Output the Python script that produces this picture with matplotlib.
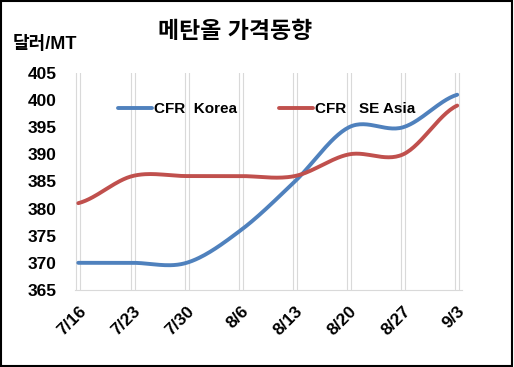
import numpy as np
import matplotlib
matplotlib.use("Agg")
import matplotlib.pyplot as plt
from matplotlib.patches import Rectangle

plt.rcParams['font.family'] = ['Liberation Sans', 'Noto Sans CJK KR', 'DejaVu Sans']

# 데이터
dates = ['7/16', '7/23', '7/30', '8/6', '8/13', '8/20', '8/27', '9/3']
korea = [370, 370, 370, 376, 385, 395, 395, 401]
se_asia = [381, 386, 386, 386, 386, 390, 390, 399]


# 엑셀 "부드러운 선" 흉내 (Catmull-Rom)
def smooth(y, n=30):
    y = np.asarray(y, dtype=float)
    x = np.arange(len(y), dtype=float)
    p = np.concatenate([[y[0]], y, [y[-1]]])
    xs, ys = [], []
    for i in range(len(y) - 1):
        p0, p1, p2, p3 = p[i], p[i + 1], p[i + 2], p[i + 3]
        t = np.linspace(0, 1, n, endpoint=False)
        yy = 0.5 * ((2 * p1) + (-p0 + p2) * t + (2 * p0 - 5 * p1 + 4 * p2 - p3) * t ** 2
                    + (-p0 + 3 * p1 - 3 * p2 + p3) * t ** 3)
        xs.append(x[i] + t)
        ys.append(yy)
    xs.append([x[-1]])
    ys.append([y[-1]])
    return np.concatenate(xs), np.concatenate(ys)


fig = plt.figure(figsize=(5.14, 3.67), dpi=100)
ax = fig.add_axes([0.146, 0.210, 0.753, 0.591])

x = np.arange(len(dates))
for i in x:
    ax.axvline(i - 0.035, color='#d9d9d9', lw=0.8, zorder=0)
    ax.axvline(i + 0.04, color='#d9d9d9', lw=0.8, zorder=0)

kx, ky = smooth(korea)
sx, sy = smooth(se_asia)
ax.plot(kx, ky, color='#4f81bd', lw=2.8, label='CFR  Korea', solid_capstyle='round')
ax.plot(sx, sy, color='#c0504d', lw=2.8, label='CFR   SE Asia', solid_capstyle='round')

ax.set_xlim(-0.06, 7.09)
ax.set_ylim(365, 405)
ax.set_yticks(range(365, 406, 5))
ax.set_xticks(x)
ax.set_xticklabels(dates, rotation=45, ha='right', rotation_mode='anchor')
ax.tick_params(length=0, labelsize=12.5)
ax.tick_params(axis='y', pad=13)
ax.tick_params(axis='x', pad=10)
for lab in ax.get_xticklabels() + ax.get_yticklabels():
    lab.set_fontweight('bold')

for s in ['top', 'right', 'left']:
    ax.spines[s].set_visible(False)
ax.spines['bottom'].set_color('#d9d9d9')

leg = ax.legend(loc='upper center', bbox_to_anchor=(0.495, 0.93), ncol=2, frameon=False,
                handlelength=2.2, handletextpad=0.1, columnspacing=2.8,
                prop={'weight': 'bold', 'size': 11})

fig.text(0.458, 0.915, '메탄올 가격동향', ha='center', va='center', fontsize=16.5, fontweight='bold')
fig.text(0.025, 0.88, '달러/MT', ha='left', va='center', fontsize=13, fontweight='bold')

fig.patches.append(Rectangle((0.002, 0.003), 0.995, 0.994, transform=fig.transFigure,
                             fill=False, edgecolor='black', lw=1.5))

fig.savefig('out.png', dpi=100)
